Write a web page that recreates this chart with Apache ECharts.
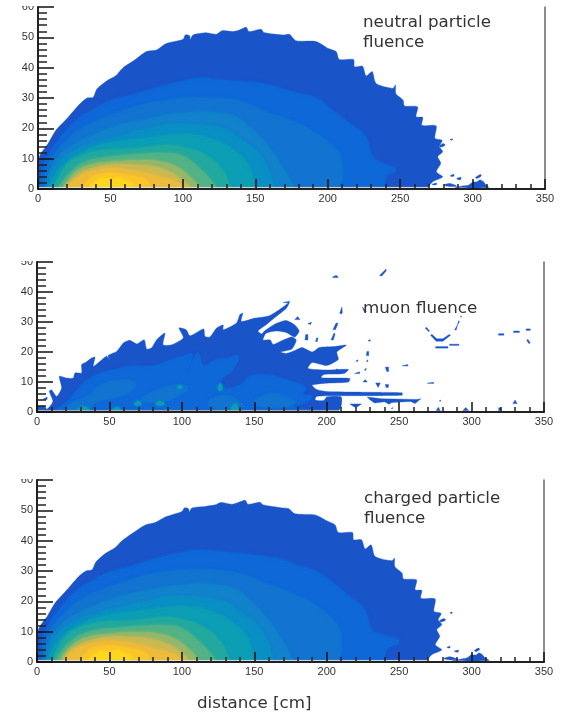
<!DOCTYPE html>
<html><head><meta charset="utf-8">
<style>html,body{margin:0;padding:0;background:#fff}#c{width:566px;height:712px;filter:blur(0.4px)}</style>
<script src="https://cdn.jsdelivr.net/npm/echarts@6/dist/echarts.min.js"></script>
</head><body><div id="c"></div>
<script>
const palette=["#1a54c9","#0e68d8","#1274d0","#1182cb","#0a8fc4","#0b9eb5","#22a99f","#52b386","#93b86b","#cbb954","#eebb3a","#fbc62a","#fed71e"];
const stripColors=["#e4e6e6","#b4b6b8","#e4e6e6"];
const xTicks=[0,350,50];
const floorY=0.5;

// neutral particle fluence: contour level profiles [cm, cm]
const nL1=[[0,3],[1,10.7],[4.6,13.4],[7,15],[12.6,19.5],[20.7,23.6],[28.8,28],[33.8,30],[38,30.2],[40.7,33],[47.6,35.7],[53.6,37.3],[58.7,40],[66.7,42.5],[74.8,45.3],[81.7,45.8],[88.6,48],[100,49.3],[101.7,50.8],[104.7,50.5],[105,49.3],[107,50.8],[116,51.5],[123,51],[127,52.2],[134.6,51.9],[139,52.4],[143.8,53.3],[145.6,51.9],[154,52.7],[156,51.6],[169,50.8],[173.6,51],[178,48.9],[192,48.6],[200,46.4],[205.8,45.3],[208,42.7],[217.8,42.7],[218.5,40.3],[224,40.5],[226.5,37.3],[230.7,38.7],[233.4,34.8],[245,33.2],[246.8,34.3],[247,31.5],[252,29.3],[253,27.4],[262,27.1],[261,23.8],[265.6,23.6],[265,21],[274.8,20.8],[274,16.7],[279,16],[277,14],[279.4,12.3],[276,10.7],[278,8.5],[275,5.7],[279.4,4],[272.5,2.4],[269,0.5]];
const nL2=[[2,3],[4,8],[9,12.5],[14,16],[23,21],[30,24],[36.8,25.8],[45,28],[53,29.5],[65,31],[76,32.5],[89.7,34.3],[100,35.5],[112,36.6],[125,36],[136,35.5],[150,35],[159,34.3],[169,33],[179,31.6],[192,30],[203,26],[215,21.6],[226,17.3],[231,10.7],[238,8.5],[247,6.3],[240,4],[240,0.5]];
const nL3=[[4,2],[7,8],[14,13],[20,16],[30,20],[46,23.5],[58,25.6],[69,27.4],[80,28.5],[89.7,29.2],[100,30],[112,30],[125,29.8],[136,29.4],[148,27.5],[159,25],[169,23.5],[179,21.7],[192,18.4],[203.5,14],[209,10.7],[210,4],[208,0.5]];
const nL4=[[6,2],[8,6],[13,10],[23,14],[39,18],[50,20],[60,21.5],[75,23],[89.7,24.5],[100,25],[113,25.5],[125,25],[136,23.9],[147,20],[159,14],[170,6.3],[177,0.5]];
const nL5=[[7,1],[9,4.5],[14,8.5],[25,12.5],[41,15.5],[53,17],[64,18.5],[77,20],[89.7,21.2],[100,21.2],[113,21],[129,19.5],[140,16.2],[152,11.8],[159,6.3],[163,0.5]];
const nL6=[[8,0.5],[10,3],[15,6.5],[20,9],[30,12],[40,14],[53,15.5],[70,16.5],[89.7,17.7],[106,17.9],[120,16.5],[133,13.5],[145,8],[150,0.5]];
const nL7=[[10,0.5],[13,2.5],[20,8],[28,10.5],[40,12.3],[55,13],[70,13.5],[89.7,14.4],[101,13.6],[113,11.8],[126,7],[133,0.5]];
const nL8=[[14,0.5],[17,2.5],[24.4,6.3],[33,9],[45,10.3],[54,10.8],[70,11.5],[89.7,11.8],[100,10.8],[110,7.5],[120,2.5],[123,0.5]];
const nL9=[[17,0.5],[20,2.5],[27,6],[36,8],[50,9],[70,9.5],[85,9],[97,7],[106,3.5],[112,0.5]];
const nL10=[[18.5,0.5],[22,2.5],[30,5.5],[40,7.2],[50,8],[65,8],[78,7.5],[90,5.8],[99,3.2],[105,0.5]];
const nL11=[[20,0.5],[24,2.5],[32,5],[42,6.3],[50,6.8],[62,6.3],[72,5.5],[82,4.2],[93,2.8],[99,1.2],[101,0.5]];
const nL12=[[30,0.5],[33,2],[38,4],[45,5],[52,5.2],[60,4.6],[68,4],[75,2.8],[78,0.5]];
const nL13=[[36,1],[40,2.5],[45,3.5],[50,3],[55,3.6],[60,2.8],[66,1.5],[64,1],[50,0.8]];
const nBits=[
 [[288,0.5],[293,1],[297,1.2],[300,2.2],[303,2.4],[305,3],[307,2.6],[309,1.5],[311,0.5]],
 [[302,3.8],[305.5,4.8],[306,4.3],[303,3.5]],
 [[280,1.2],[284,1.8],[289,1],[285,0.8]],
 [[272,1.5],[275,2],[275,1.4]],
 [[284.5,4.3],[287,4.9],[287,4.2]],
 [[289,3.4],[292,3.9],[291.5,3]],
 [[277,14.2],[280,15],[281,14.4],[278,13.8]],
 [[284.5,16.2],[286,16.6],[286,16.1]]
];

// charged particle fluence
const cL1=[[0,3],[1,10.7],[4.6,13.6],[7,15],[12.6,19.5],[20.7,23.8],[28.8,28.2],[33.8,30],[38,30.4],[40.7,33],[47.6,35.9],[53.6,37.6],[58.7,40],[66.7,42.7],[74.8,45.2],[81.7,46],[88.6,47.8],[100,49.6],[101.7,50.8],[104.7,50.5],[105,49.4],[107,50.8],[116,51.3],[123,51.8],[127,52.6],[134.6,52],[139,52.6],[143.8,53.3],[145.6,52],[154,52.7],[156,51.8],[169,50.8],[173.6,50.6],[178,48.9],[192,48.5],[200,46.6],[205.8,45.2],[208,42.7],[217.8,42.7],[218.5,40.3],[224,40.3],[226.5,37.3],[230.7,38.6],[233.4,34.8],[245,33.4],[246.8,34.3],[247,31.5],[252,29.3],[253,27.4],[262,27.1],[261,23.8],[265.6,23.6],[265,21],[274.8,20.8],[274,16.7],[279,16],[277,14],[279.4,12.3],[276,10.7],[278,8.5],[275,5.7],[279.4,4],[272.5,2.4],[269,0.5]];
const cL2=[[2,3],[4,8.5],[9,13],[14,16.5],[23,21.5],[30,24.5],[36.8,26.3],[45,28.5],[53,30],[65,31.5],[76,33.2],[89.7,35],[100,36],[112,36.9],[125,36.4],[136,36],[150,35.2],[159,34.5],[169,33.8],[179,32],[192,30],[203,26.5],[215,21.8],[226,17.3],[231,10.7],[238,9],[250,6.8],[241,4],[240,0.5]];
const cL3=[[4,2],[7,8.5],[14,13.5],[20,16.5],[30,20.5],[46,24],[58,26],[69,27.8],[80,29],[89.7,29.8],[100,30.3],[112,30.6],[125,30.2],[136,29.6],[148,27.8],[159,25.6],[169,24],[179,22],[192,18.8],[203.5,14.2],[209,10.7],[210,4],[208,0.5]];
const cL4=[[6,2],[8,6.5],[13,10.5],[23,14.5],[39,18.4],[50,20.4],[60,21.9],[75,23.4],[89.7,24.8],[100,25.4],[113,25.8],[125,25.4],[136,24.2],[147,20.2],[159,14.2],[170,6.5],[177,0.5]];
const cL5=[[7,1],[9,5],[14,9],[25,13],[41,16],[53,17.4],[64,18.8],[77,20.2],[89.7,21.6],[100,21.6],[113,21.3],[129,19.8],[140,16.4],[152,12],[159,6.5],[163,0.5]];
const cL6=[[8,0.5],[10,3.4],[15,7],[20,9.5],[30,12.5],[40,14.4],[53,15.8],[70,16.8],[89.7,18],[106,18.2],[120,16.7],[133,13.6],[145,8.1],[150,0.5]];
const cL7=[[10,0.5],[13,3],[20,8.5],[28,11],[40,12.8],[55,13.4],[70,13.8],[89.7,14.8],[101,13.9],[113,12],[126,7.1],[133,0.5]];
const cL8=[[13,0.5],[16,3],[24,7],[33,9.5],[45,10.8],[54,11.2],[70,11.8],[89.7,12],[100,11],[110,7.6],[120,2.7],[123,0.5]];
const cL9=[[16,0.5],[19,3],[27,6.5],[36,8.4],[50,9.3],[70,9.8],[85,9.2],[97,7.1],[106,3.7],[112,0.5]];
const cL10=[[18,0.5],[21,3],[30,6],[40,7.5],[50,8.3],[65,8.2],[78,7.6],[90,5.9],[99,3.4],[105,0.5]];
const cL11=[[19,0.5],[23,3],[32,5.4],[42,6.6],[50,7],[62,6.5],[72,5.6],[82,4.3],[93,2.9],[99,1.3],[101,0.5]];
const cL12=[[29,0.5],[32,2.2],[38,4.3],[45,5.2],[52,5.4],[60,4.8],[68,4.1],[75,2.9],[78,0.5]];
const cL13=[[36,1],[40,2.6],[45,3.6],[50,3.1],[55,3.8],[60,2.9],[66,1.6],[64,1],[50,0.8]];
const cBits=[
 [[287,0.5],[293,1],[297,1.4],[300,2.4],[303,2.3],[305,3],[307,2.6],[309,1.5],[312,0.5]],
 [[302,3.8],[305,4.6],[305.5,4.1],[303,3.4]],
 [[281,1.1],[285,1.7],[290,0.9],[286,0.7]],
 [[283,4.8],[285,5.2],[285,4.6]],
 [[288,3.6],[291,3.9],[290.5,3.2]],
 [[278,13.6],[281,14.3],[282,13.8],[279,13.2]],
 [[285,16.2],[286.5,16.5],[286.5,16]]
];

// muon fluence
const mMain=[[0,0.5],[0,1.9],[5.5,1.9],[6.7,0.8],[11,3.5],[8.5,6.9],[10,7.4],[13.6,5.2],[17,8],[15.4,11.9],[20.5,11.3],[25,11.3],[26.2,13],[30.8,13],[30.8,15.8],[33.8,16.6],[37.7,18],[40,18.3],[38.9,15.2],[43.5,16.9],[48,18.6],[50.4,17.4],[49,18.8],[55,20.2],[59.6,23],[64,23.9],[69,22.7],[74,24.1],[75.7,21],[79,21.3],[82.6,24.1],[88.3,26.3],[87,22.4],[93,22.4],[101,24.7],[98,28],[103,27.4],[105.6,25.4],[115,27.7],[116,25.2],[119.4,25],[124,28],[128.5,29],[128.5,27.4],[137.8,29.7],[140,32.4],[142,33],[141,30.2],[150.5,31.3],[160,32],[167,34],[174,36.4],[172,34.5],[163,31],[158,29],[152.5,27],[155,26],[157,27],[165,29.5],[172,30.5],[178,29],[181,27],[178,25],[172,26.5],[165,27],[158,26.2],[156,24],[161,24],[163,22.5],[170,24],[176,25],[179,24],[176,21],[168,20],[172,19.5],[178,20.5],[183,21.5],[190,20],[195,21.5],[205,21.8],[213.5,22.3],[207,20],[208,17.5],[200,15.5],[190,16.5],[187,14.5],[200,14],[215,14.2],[212,12.8],[198,12.5],[196,11.5],[201,11.3],[216,11.2],[215,10],[200,9.6],[190,9],[193,7.5],[200,6.8],[225,6.6],[252,6.4],[252,5.6],[210,5.4],[193,5.2],[192,4],[198,3.8],[200,5],[210,5],[210,2],[208,0.5]];
const mL2=[[13,0.5],[17,2],[22,4],[27,7],[33,10],[44,13],[55,14.2],[66,15.3],[80,15.3],[90,17],[100,18.5],[107,19.3],[104,13.5],[111,19.6],[115,15.5],[124,17.5],[132,18],[139,18.6],[135,14],[127,10.6],[130,8],[140,9],[148,12],[159,12.3],[170,11],[180,9.5],[186,8],[183,6],[190,5.2],[185,3],[178,2],[183,1],[195,0.5]];
const mL3=[[[20,0.5],[24,3],[34,5],[44,9],[55,10.5],[68,9.5],[62,6],[50,4.5],[40,3],[34,0.5]],[[72,4],[84,7.5],[96,9],[104,8],[96,5],[86,3.5]],[[118,3],[128,5.5],[138,4],[142,1.5],[128,0.8]],[[150,3],[160,6],[172,5],[178,3],[165,1.5]]];
const mSpots=[[[28,0.5],[32,1.8],[36,0.5]],[[52,0.5],[55,1.6],[58,0.5]],[[82,2.5],[85,3.6],[88,2.5]],[[67,2.5],[70,3.6],[72,2.5]],[[97,8],[99,9],[100,8]],[[125,7.5],[126.5,9.5],[128,7.5]],[[134,1],[137,2.8],[139,1]]];
const mBits=[
 [[204,44.8],[208,44.8],[207,45.5],[205,45.3]],[[236.5,45.5],[241,47.7],[241,47],[238,45.3]],[[209,33],[210.5,35],[210.8,33.2],[210,32.6]],[[224.5,35],[227.5,33.6],[226,33.3]],[[170,36.5],[174.4,36.9],[174,36.3]],[[178,30.8],[180,31.8],[181.5,30.8]],[[187,29.4],[189.4,30],[189,29.2]],[[204.3,27.5],[206.5,29.7],[207.8,29.5],[206,27.4]],[[203,24],[205,26.3],[205.8,26],[204.5,24]],[[185,24],[185.5,25.8],[187,25.8],[187,24]],[[192.3,23.5],[193,24.7],[194,24.7],[193.5,23.5]],[[228.5,23.7],[230,24.2],[230,23.6]],[[227.3,18.8],[227.8,20.2],[229,20.2],[229,18.8]],[[220,16.9],[221.6,17.4],[221.6,16.9]],[[227.3,16.9],[228.4,17.4],[228.4,16.8]],[[226,14.1],[227.3,14.6],[227,13.8]],[[240.4,14.9],[242.7,15],[242.7,13.5],[241.5,13.5]],[[252,15.4],[256,15.8],[256,15.3]],[[206.6,14.4],[210,13.6],[207,13.2]],[[219.3,12.8],[222.7,13.4],[222.7,12.8]],[[225,10],[226.6,10.8],[228,10]],[[233.8,9.7],[237,9.7],[235.5,8.2]],[[240.4,9.2],[242.7,9.2],[242.5,8.2],[241,8.2]],[[269.4,9.6],[273.8,9.9],[273.8,9.5]],[[277.6,3.7],[278.8,4],[278.6,3.6]],[[275.6,0.5],[277,1.6],[278.4,0.5]],[[294,0.5],[296,1.5],[298,0.5]],[[318.6,0.5],[318.8,1.4],[320.5,1.4],[320,0.5]],[[328.5,2.8],[330,4],[331.5,2.8]],[[244.5,1.2],[245.5,1.5],[245.5,1.1]],
 [[268,28],[269,28.2],[271,27],[270.3,26.8]],
 [[271.7,25.6],[275.6,23.6],[280.2,23.6],[285.5,25.6],[284.5,25.8],[280.2,24.4],[276,24.4],[272.6,25.9]],
 [[275.2,21.3],[283.7,21.3],[283.7,21.8],[275.2,21.8]],[[284.8,22.2],[291.3,22.2],[291.3,22.6],[284.8,22.6]],[[288.3,27.4],[291.7,30.2],[291,30.4],[289.4,27.3]],[[292,31.8],[293,32],[292.8,31.6]],[[318.6,25.6],[322.3,25.6],[322.3,26.1],[318.6,26.1]],[[329,26.5],[333,26.5],[333,27],[329,27]],[[337.7,27.2],[340.5,27.2],[340.5,27.7],[337.7,27.7]],[[338,24],[339,24.2],[340.5,23],[339.5,22.8]],
 [[228,5],[238,4.4],[262,4.2],[265,4.4],[261,2.8],[258,3.5],[245,3.2],[243,2.6],[240,3.4],[233,3],[230,4]],
 [[216,2.7],[224,2.7],[221,1.7],[219,1.7]],[[4,4.2],[7,5],[7,4.2]],[[5,0.5],[6,1.2],[7,0.5]]
];
const stripEnds=[270,208,270];

function lens(p){return p.concat([[p[p.length-1][0],floorY],[p[0][0],floorY]]);}
function bandShapes(levels,bits){
  const out=levels.map(function(p,i){return {level:i,points:lens(p),smooth:i===0?0.25:0.5,soft:i>0?3:0};});
  bits.forEach(function(b){out.splice(1,0,{level:0,points:b,smooth:0.3,soft:0});});
  return out;
}
const neutralShapes=bandShapes([nL1,nL2,nL3,nL4,nL5,nL6,nL7,nL8,nL9,nL10,nL11,nL12,nL13],nBits);
const chargedShapes=bandShapes([cL1,cL2,cL3,cL4,cL5,cL6,cL7,cL8,cL9,cL10,cL11,cL12,cL13],cBits);
const muonShapes=[{level:0,points:mMain,smooth:0.2,soft:0},{level:1,points:mL2,smooth:0.4,soft:2}]
  .concat(mBits.map(function(b){return {level:0,points:b,smooth:0,soft:0};}))
  .concat(mL3.map(function(b){return {level:2,points:b,smooth:0.5,soft:2};}))
  .concat(mSpots.map(function(b){return {level:5,points:b,smooth:0.5,soft:3};}));

const grids=[{left:38,top:7,width:507,height:182},{left:37,top:262,width:507,height:150},{left:37,top:480,width:507,height:182}];
const yMaxes=[60,50,60];
const allShapes=[neutralShapes,muonShapes,chargedShapes];

function shapeSeries(shapes,gi){
  const strip={color:stripColors[gi],points:[[0,0],[stripEnds[gi],0],[stripEnds[gi],0.55],[0,0.55]],smooth:0,soft:0};
  const list=shapes.concat([strip]);
  return {type:'custom',xAxisIndex:gi,yAxisIndex:gi*2,silent:true,clip:true,z:2,
    coordinateSystem:'cartesian2d',
    data:list.map(function(s,i){return [s.points[0][0],s.points[0][1],i];}),
    encode:{x:0,y:1},
    renderItem:function(params,api){
      const s=list[api.value(2)];
      const col=s.color||palette[s.level];
      return {type:'polygon',shape:{points:s.points.map(function(p){return api.coord(p);}),smooth:s.smooth},
        style:{fill:col,stroke:col,lineWidth:0.4,shadowBlur:s.soft,shadowColor:col}};
    }};
}
const xAxes=grids.map(function(g,i){return {type:'value',gridIndex:i,min:xTicks[0],max:xTicks[1],interval:xTicks[2],z:5,
  splitLine:{show:false},
  axisLine:{onZero:false,lineStyle:{color:'#222',width:2}},
  axisTick:{inside:true,length:10,lineStyle:{color:'#111',width:1.5}},
  minorTick:{show:true,splitNumber:5,length:5,lineStyle:{color:'#222',width:1.5}},
  axisLabel:{fontFamily:'Liberation Sans',fontSize:11,color:'#333',margin:4,showMinLabel:true,showMaxLabel:true}};});
const yAxes=[];
grids.forEach(function(g,i){
  yAxes.push({type:'value',gridIndex:i,min:0,max:yMaxes[i],interval:10,z:5,position:'left',
    splitLine:{show:false},
    axisLine:{onZero:false,lineStyle:{color:'#222',width:2}},
    axisTick:{inside:true,length:16,lineStyle:{color:'#111',width:1.5}},
    minorTick:{show:true,splitNumber:5,length:9,lineStyle:{color:'#222',width:1.5}},
    axisLabel:{fontFamily:'Liberation Sans',fontSize:11,color:'#333',margin:4,showMinLabel:true,showMaxLabel:true}});
  yAxes.push({type:'value',gridIndex:i,min:0,max:yMaxes[i],interval:10,position:'right',z:5,
    splitLine:{show:false},axisLine:{show:true,onZero:false,lineStyle:{color:'#666',width:1.5}},
    axisTick:{show:false},minorTick:{show:false},axisLabel:{show:false}});
});
const captionStyle={fontFamily:'DejaVu Sans',fontSize:16.7,fontWeight:'normal',color:'#333',lineHeight:20};
const chart=echarts.init(document.getElementById('c'),null,{renderer:'canvas'});
chart.setOption({
  animation:false,backgroundColor:'#fff',
  grid:grids,xAxis:xAxes,yAxis:yAxes,
  title:[
    {text:'neutral particle\nfluence',left:363,top:13,textStyle:captionStyle,padding:0},
    {text:'muon fluence',left:363,top:299,textStyle:captionStyle,padding:0},
    {text:'charged particle\nfluence',left:364,top:489,textStyle:captionStyle,padding:0},
    {text:'distance [cm]',left:197,top:694,textStyle:captionStyle,padding:0}
  ],
  graphic:grids.map(function(g){return {type:'rect',z:100,silent:true,shape:{x:5,y:g.top-8,width:30,height:7},style:{fill:'#fff'}};}),
  series:allShapes.map(shapeSeries)
});
</script></body></html>
